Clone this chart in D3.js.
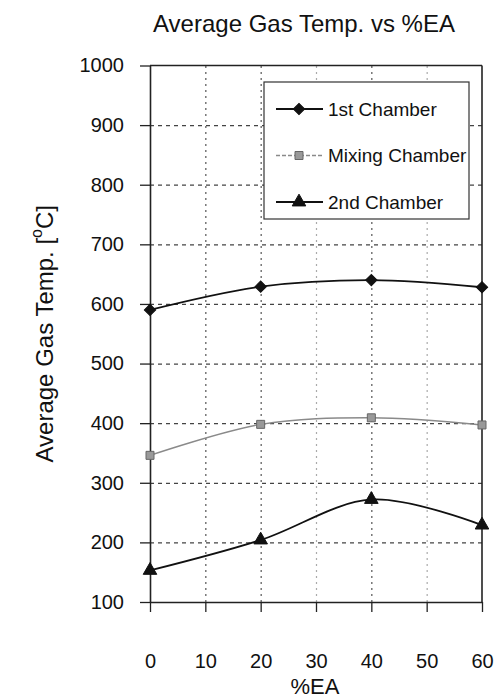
<!DOCTYPE html>
<html>
<head>
<meta charset="utf-8">
<script src="https://cdn.jsdelivr.net/npm/d3@7"></script>
<style>
  body { margin: 0; background: #fff; }
  svg { font-family: "Liberation Sans", Arial, sans-serif; }
</style>
</head>
<body>
<div id="chart"></div>
<script>
// values
var eaValues = [0, 20, 40, 60];
var firstChamber = [590, 629, 640, 628];
var mixingChamber = [346, 398, 409, 397];
var secondChamber = [153, 204, 272, 229];
var xTicks = [0, 10, 20, 30, 40, 50, 60];
var yTicks = [100, 200, 300, 400, 500, 600, 700, 800, 900, 1000];
var seriesNames = ["1st Chamber", "Mixing Chamber", "2nd Chamber"];

var margin = { top: 65.5, right: 13, bottom: 97, left: 150 },
    width = 495 - margin.left - margin.right,
    height = 699 - margin.top - margin.bottom;

var svg = d3.select("#chart").append("svg")
    .attr("width", 495)
    .attr("height", 699);

var g = svg.append("g")
    .attr("transform", "translate(" + margin.left + "," + margin.top + ")");

var x = d3.scaleLinear().domain([0, 60]).range([0, width]);
var y = d3.scaleLinear().domain([100, 1000]).range([height, 0]);

// grid lines
g.append("g")
    .attr("class", "grid-y")
    .call(d3.axisLeft(y).tickValues(yTicks.slice(1, -1)).tickSize(-width).tickFormat(""))
    .call(function (s) {
        s.select(".domain").remove();
        s.selectAll("line").attr("stroke", "#444").attr("stroke-width", 1.2).attr("stroke-dasharray", "4,4");
    });

g.append("g")
    .attr("class", "grid-x")
    .attr("transform", "translate(0," + height + ")")
    .call(d3.axisBottom(x).tickValues(xTicks.slice(1, -1)).tickSize(-height).tickFormat(""))
    .call(function (s) {
        s.select(".domain").remove();
        s.selectAll("line")
            .attr("stroke", function (d) { return d === 30 || d === 50 ? "#aaa" : "#555"; })
            .attr("stroke-width", 1.2)
            .attr("stroke-dasharray", "2,4");
    });

// frame top and right
g.append("line").attr("x1", 0).attr("x2", width).attr("y1", 0).attr("y2", 0)
    .attr("stroke", "#222").attr("stroke-width", 1.6);
g.append("line").attr("x1", width).attr("x2", width).attr("y1", 0).attr("y2", height)
    .attr("stroke", "#222").attr("stroke-width", 1.6);

// axes
var yAxis = d3.axisLeft(y).tickValues(yTicks).tickFormat(d3.format("d"))
    .tickSizeInner(10).tickSizeOuter(0).tickPadding(16);
var xAxis = d3.axisBottom(x).tickValues(xTicks).tickFormat(d3.format("d"))
    .tickSizeInner(10).tickSizeOuter(0).tickPadding(42);

g.append("g")
    .attr("class", "y axis")
    .call(yAxis)
    .call(function (s) {
        s.select(".domain").attr("stroke", "#222").attr("stroke-width", 1.6);
        s.selectAll("line").attr("stroke", "#222").attr("stroke-width", 1.3);
        s.selectAll("text").attr("font-size", 20).attr("fill", "#111");
    });

g.append("g")
    .attr("class", "x axis")
    .attr("transform", "translate(0," + height + ")")
    .call(xAxis)
    .call(function (s) {
        s.select(".domain").attr("stroke", "#222").attr("stroke-width", 1.6);
        s.selectAll("line").attr("stroke", "#222").attr("stroke-width", 1.3);
        s.selectAll("text").attr("font-size", 20).attr("fill", "#111");
    });

// titles
svg.append("text")
    .attr("x", 304).attr("y", 32)
    .attr("text-anchor", "middle")
    .attr("font-size", 24)
    .attr("fill", "#111")
    .text("Average Gas Temp. vs %EA");

svg.append("text")
    .attr("x", 315).attr("y", 694)
    .attr("text-anchor", "middle")
    .attr("font-size", 22)
    .attr("fill", "#111")
    .text("%EA");

var yLabel = svg.append("text")
    .attr("transform", "translate(53," + (margin.top + height / 2) + ") rotate(-90)")
    .attr("text-anchor", "middle")
    .attr("font-size", 24)
    .attr("fill", "#111");
yLabel.append("tspan").text("Average Gas Temp. [");
yLabel.append("tspan").attr("dy", -11).attr("font-size", 16).text("o");
yLabel.append("tspan").attr("dy", 11).text("C]");

// series (diamond = square turned 45 degrees, like the Excel marker)
var series = [
    { name: seriesNames[0], values: firstChamber, color: "#111", width: 1.8, marker: d3.symbolSquare, rot: 45, size: 64, fill: "#111" },
    { name: seriesNames[1], values: mixingChamber, color: "#8a8a8a", width: 1.4, marker: d3.symbolSquare, rot: 0, size: 64, fill: "#999" },
    { name: seriesNames[2], values: secondChamber, color: "#111", width: 1.8, marker: d3.symbolTriangle, rot: 0, size: 80, fill: "#111" }
];

var line = d3.line()
    .x(function (d) { return x(d[0]); })
    .y(function (d) { return y(d[1]); })
    .curve(d3.curveCardinal.tension(0));

series.forEach(function (s, k) {
    var pts = eaValues.map(function (e, i) { return [e, s.values[i]]; });
    g.append("path")
        .datum(pts)
        .attr("fill", "none")
        .attr("stroke", s.color)
        .attr("stroke-width", s.width)
        .attr("d", line);
    g.selectAll(null)
        .data(pts)
        .enter().append("path")
        .attr("transform", function (d) { return "translate(" + x(d[0]) + "," + y(d[1]) + ") rotate(" + s.rot + ")"; })
        .attr("d", d3.symbol().type(s.marker).size(s.size))
        .attr("fill", s.fill)
        .attr("stroke", k === 1 ? "#666" : "#111")
        .attr("stroke-width", 1);
});

// legend
var legend = svg.append("g").attr("transform", "translate(264,82)");
legend.append("rect")
    .attr("width", 205).attr("height", 137)
    .attr("fill", "#fff")
    .attr("stroke", "#333").attr("stroke-width", 1.2);

series.forEach(function (s, i) {
    var row = legend.append("g").attr("transform", "translate(0," + (27 + i * 46.5) + ")");
    row.append("line")
        .attr("x1", 12).attr("x2", 59)
        .attr("stroke", s.color).attr("stroke-width", s.width)
        .attr("stroke-dasharray", i === 1 ? "4,2" : null);
    row.append("path")
        .attr("transform", "translate(35,0) rotate(" + s.rot + ")")
        .attr("d", d3.symbol().type(s.marker).size(s.size))
        .attr("fill", s.fill)
        .attr("stroke", i === 1 ? "#666" : "#111")
        .attr("stroke-width", 1);
    row.append("text")
        .attr("x", 64).attr("dy", "0.35em")
        .attr("font-size", 19)
        .attr("fill", "#111")
        .text(s.name);
});
</script>
</body>
</html>
